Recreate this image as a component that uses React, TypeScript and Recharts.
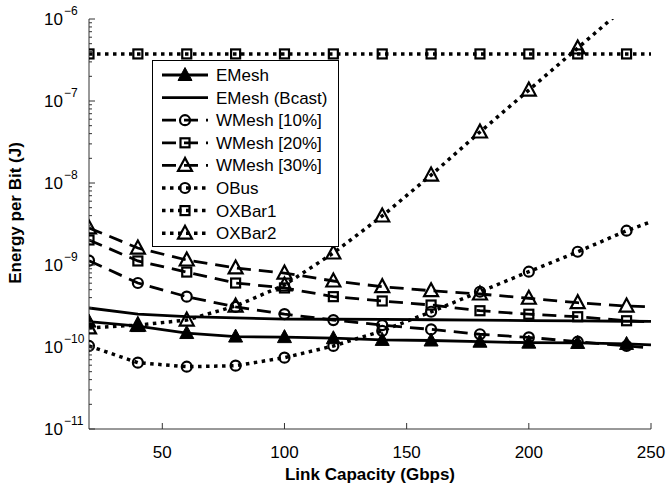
import { LineChart, Line, XAxis, YAxis, Legend } from 'recharts';

// link capacity (Gbps); markers every 20, the line runs on to 250
const capacity = [20, 40, 60, 80, 100, 120, 140, 160, 180, 200, 220, 240, 250];

// energy per bit (J)
const eMesh = [2.04e-10, 1.8e-10, 1.48e-10, 1.34e-10, 1.32e-10, 1.28e-10, 1.22e-10, 1.2e-10, 1.16e-10, 1.13e-10, 1.12e-10, 1.09e-10, 1.06e-10];
const eMeshBcast = [2.99e-10, 2.52e-10, 2.34e-10, 2.26e-10, 2.19e-10, 2.18e-10, 2.17e-10, 2.15e-10, 2.13e-10, 2.1e-10, 2.08e-10, 2.06e-10, 2.05e-10];
const wMesh10 = [1.13e-9, 6.03e-10, 4.11e-10, 3.08e-10, 2.52e-10, 2.13e-10, 1.85e-10, 1.64e-10, 1.43e-10, 1.31e-10, 1.16e-10, 1.03e-10, 9.7e-11];
const wMesh20 = [2.02e-9, 1.12e-9, 8.2e-10, 6.03e-10, 5.25e-10, 4.11e-10, 3.64e-10, 3.25e-10, 2.77e-10, 2.51e-10, 2.34e-10, 2.09e-10, 2.02e-10];
const wMesh30 = [2.83e-9, 1.61e-9, 1.15e-9, 9.2e-10, 7.98e-10, 6.38e-10, 5.44e-10, 4.86e-10, 4.43e-10, 3.93e-10, 3.47e-10, 3.16e-10, 3.08e-10];
const oBus = [1.03e-10, 6.44e-11, 5.75e-11, 5.92e-11, 7.41e-11, 1.03e-10, 1.57e-10, 2.69e-10, 4.72e-10, 8.28e-10, 1.45e-9, 2.62e-9, 3.37e-9];
const oxBar1 = [3.75e-7, 3.75e-7, 3.75e-7, 3.75e-7, 3.75e-7, 3.75e-7, 3.75e-7, 3.75e-7, 3.75e-7, 3.75e-7, 3.75e-7, 3.75e-7, 3.75e-7];
const oxBar2 = [1.71e-10, 1.85e-10, 2.13e-10, 3.16e-10, 5.7e-10, 1.4e-9, 3.96e-9, 1.25e-8, 4.19e-8, 1.36e-7, 4.43e-7, 1.44e-6, 2.6e-6];

const xTicks = [50, 100, 150, 200, 250];
const yDecades = [1e-11, 1e-10, 1e-9, 1e-8, 1e-7, 1e-6];

const seriesNames = ['EMesh', 'EMesh (Bcast)', 'WMesh [10%]', 'WMesh [20%]', 'WMesh [30%]', 'OBus', 'OXBar1', 'OXBar2'];
const seriesValues = [eMesh, eMeshBcast, wMesh10, wMesh20, wMesh30, oBus, oxBar1, oxBar2];

const DASH = '14 8';
const DOT = '3.5 4.5';
const seriesStyle = [
  { marker: 'triFilled', dash: undefined, width: 2.8 },
  { marker: 'none', dash: undefined, width: 2.8 },
  { marker: 'circle', dash: DASH, width: 2.8 },
  { marker: 'square', dash: DASH, width: 2.8 },
  { marker: 'tri', dash: DASH, width: 2.8 },
  { marker: 'circle', dash: DOT, width: 3.5 },
  { marker: 'square', dash: DOT, width: 3.5 },
  { marker: 'tri', dash: DOT, width: 3.5 },
];

const data = capacity.map((x, i) => {
  const row: Record<string, number> = { x };
  seriesNames.forEach((name, s) => {
    row[name] = seriesValues[s][i];
  });
  return row;
});

const yTicks: number[] = [];
yDecades.forEach((d, i) => {
  if (i === yDecades.length - 1) {
    yTicks.push(d);
    return;
  }
  for (let m = 1; m < 10; m++) yTicks.push(m * d);
});

const FONT = '"Liberation Sans", Arial, Helvetica, sans-serif';
const AXIS = '#333';

function isDecade(v: number) {
  const l = Math.log10(v);
  return Math.abs(l - Math.round(l)) < 1e-6;
}

function Marker({ kind, cx, cy }: { kind: string; cx: number; cy: number }) {
  if (kind === 'circle') {
    return <circle cx={cx} cy={cy} r={5} fill="none" stroke="#000" strokeWidth={2.2} />;
  }
  if (kind === 'square') {
    return <rect x={cx - 4.5} y={cy - 4.5} width={9} height={9} fill="none" stroke="#000" strokeWidth={2.2} />;
  }
  if (kind === 'tri' || kind === 'triFilled') {
    const filled = kind === 'triFilled';
    const pts = `${cx},${cy - 7.5} ${cx - 7},${cy + 5.5} ${cx + 7},${cy + 5.5}`;
    return (
      <polygon
        points={pts}
        fill={filled ? '#000' : 'none'}
        stroke="#000"
        strokeWidth={filled ? 1 : 2.2}
        strokeLinejoin="miter"
      />
    );
  }
  return null;
}

const makeDot = (kind: string) => (props: any) => {
  const { cx, cy, payload, index } = props;
  if (kind === 'none' || payload.x % 20 !== 0 || cx == null || cy == null) {
    return <g key={`d-${index}`} />;
  }
  return (
    <g key={`d-${index}`}>
      <Marker kind={kind} cx={cx} cy={cy} />
    </g>
  );
};

function BottomTick({ x, y, payload }: any) {
  return (
    <g>
      <line x1={x} x2={x} y1={y} y2={y - 6} stroke={AXIS} />
      <text x={x} y={y + 29} textAnchor="middle" fontSize={17} fontFamily={FONT} fill="#000">
        {payload.value}
      </text>
    </g>
  );
}

function TopTick({ x, y }: any) {
  return <line x1={x} x2={x} y1={y} y2={y + 6} stroke={AXIS} />;
}

function LeftTick({ x, y, payload }: any) {
  const major = isDecade(payload.value);
  const exp = Math.round(Math.log10(payload.value));
  return (
    <g>
      <line x1={x} x2={x + (major ? 6 : 3)} y1={y} y2={y} stroke={AXIS} />
      {major && (
        <g fontFamily={FONT} fill="#000">
          <text x={x - 26} y={y + 6} textAnchor="end" fontSize={17}>
            10
          </text>
          <text x={x - 25} y={y - 4} fontSize={12}>
            {`\u2212${Math.abs(exp)}`}
          </text>
        </g>
      )}
    </g>
  );
}

function RightTick({ x, y, payload }: any) {
  const major = isDecade(payload.value);
  return <line x1={x} x2={x - (major ? 6 : 3)} y1={y} y2={y} stroke={AXIS} />;
}

function LegendBox() {
  return (
    <svg width={187} height={187} style={{ display: 'block' }}>
      <rect x={0.5} y={0.5} width={186} height={186} fill="#fff" stroke="#000" />
      {seriesNames.map((name, i) => {
        const st = seriesStyle[i];
        const cy = 15 + i * 22.6;
        return (
          <g key={name}>
            <line x1={10} x2={56} y1={cy} y2={cy} stroke="#000" strokeWidth={st.width} strokeDasharray={st.dash} />
            <Marker kind={st.marker} cx={33} cy={cy} />
            <text x={64} y={cy + 6} fontSize={17} fontFamily={FONT} fill="#000">
              {name}
            </text>
          </g>
        );
      })}
    </svg>
  );
}

export default function App() {
  return (
    <div style={{ position: 'absolute', left: 0, top: 0, width: 667, height: 492, background: '#fff' }}>
      <LineChart width={667} height={492} data={data} margin={{ top: 19, right: 16, bottom: 0, left: 9 }}>
        <XAxis
          dataKey="x"
          type="number"
          domain={[20, 250]}
          ticks={xTicks}
          interval={0}
          allowDataOverflow
          height={63}
          tickSize={0}
          tickMargin={0}
          tickLine={false}
          axisLine={{ stroke: AXIS }}
          tick={<BottomTick />}
          label={() => (
            <text x={370} y={480} textAnchor="middle" fontSize={17} fontWeight="bold" fontFamily={FONT} fill="#000">
              Link Capacity (Gbps)
            </text>
          )}
        />
        <XAxis
          xAxisId="top"
          orientation="top"
          dataKey="x"
          type="number"
          domain={[20, 250]}
          ticks={xTicks}
          interval={0}
          allowDataOverflow
          height={0}
          tickSize={0}
          tickMargin={0}
          tickLine={false}
          axisLine={{ stroke: AXIS }}
          tick={<TopTick />}
        />
        <YAxis
          scale="log"
          type="number"
          domain={[1e-11, 1e-6]}
          ticks={yTicks}
          interval={0}
          allowDataOverflow
          width={80}
          tickSize={0}
          tickMargin={0}
          tickLine={false}
          axisLine={{ stroke: AXIS }}
          tick={<LeftTick />}
          label={() => (
            <text
              x={21}
              y={213}
              transform="rotate(-90 21 213)"
              textAnchor="middle"
              fontSize={17}
              fontWeight="bold"
              fontFamily={FONT}
              fill="#000"
            >
              Energy per Bit (J)
            </text>
          )}
        />
        <YAxis
          yAxisId="right"
          orientation="right"
          scale="log"
          type="number"
          domain={[1e-11, 1e-6]}
          ticks={yTicks}
          interval={0}
          allowDataOverflow
          width={0}
          tickSize={0}
          tickMargin={0}
          tickLine={false}
          axisLine={{ stroke: AXIS }}
          tick={<RightTick />}
        />
        {seriesNames.map((name, i) => (
          <Line
            key={name}
            dataKey={name}
            type="linear"
            stroke="#000"
            strokeWidth={seriesStyle[i].width}
            strokeDasharray={seriesStyle[i].dash}
            dot={makeDot(seriesStyle[i].marker)}
            activeDot={false}
            isAnimationActive={false}
          />
        ))}
        <Legend
          layout="vertical"
          align="center"
          verticalAlign="middle"
          content={() => <LegendBox />}
          wrapperStyle={{ left: 152, top: 60, width: 187, height: 187 }}
        />
      </LineChart>
    </div>
  );
}
